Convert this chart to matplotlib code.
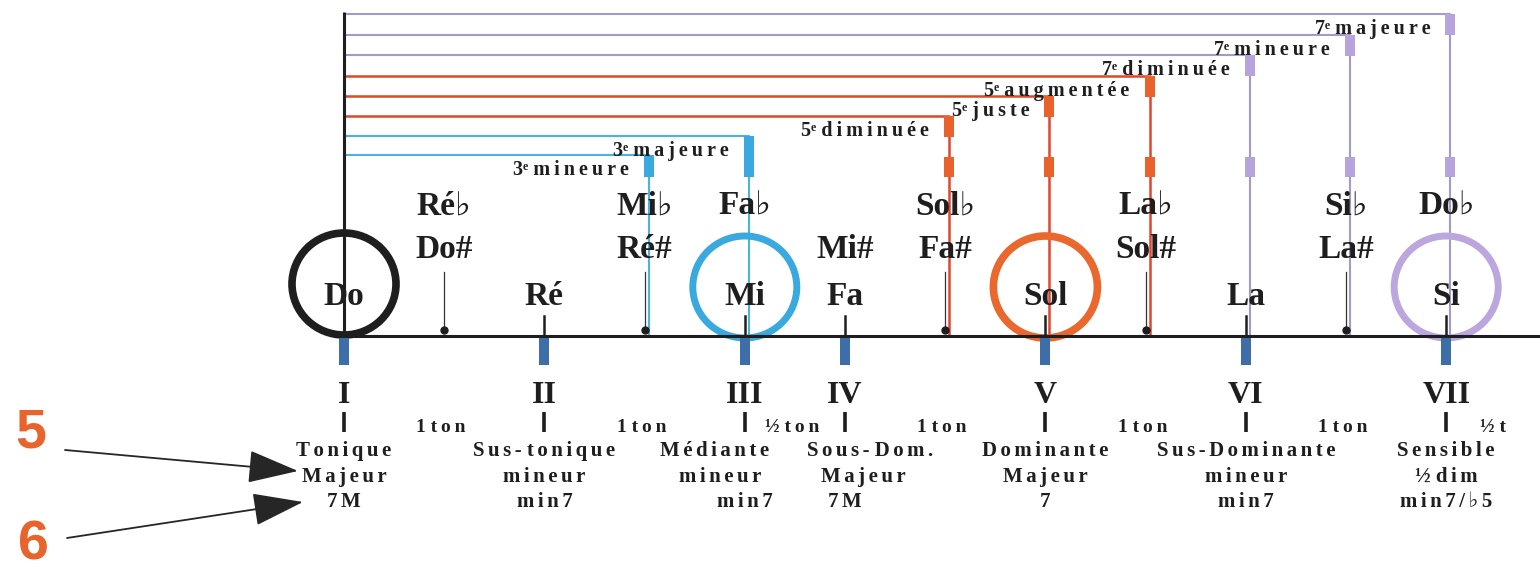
import matplotlib.pyplot as plt
from matplotlib.patches import Ellipse, Rectangle

# --- data -------------------------------------------------------------
naturals = ['Do', 'Ré', 'Mi', 'Fa', 'Sol', 'La', 'Si']
natural_semis = [0, 2, 4, 5, 7, 9, 11]
degrees = ['I', 'II', 'III', 'IV', 'V', 'VI', 'VII']
functions = ['Tonique', 'Sus- tonique', 'Médiante', 'Sous- Dom.',
             'Dominante', 'Sus-Dominante', 'Sensible']
modes = ['Majeur', 'mineur', 'mineur', 'Majeur', 'Majeur', 'mineur', '½ dim']
chords = ['7M', 'min7', 'min7', '7M', '7', 'min7', 'min7/♭5']
steps = ['1 ton', '1 ton', '½ ton', '1 ton', '1 ton', '1 ton', '½ t']

sharps = ['Do#', 'Ré#', 'Mi#', 'Fa#', 'Sol#', 'La#']
sharp_semis = [1, 3, 5, 6, 8, 10]
flats = ['Ré♭', 'Mi♭', 'Fa♭', 'Sol♭', 'La♭', 'Si♭', 'Do♭']
flat_semis = [1, 3, 4, 6, 8, 10, 11]
black_keys = [1, 3, 6, 8, 10]

intervals = ['3ᵉ mineure', '3ᵉ majeure', '5ᵉ diminuée', '5ᵉ juste',
             '5ᵉ augmentée', '7ᵉ diminuée', '7ᵉ mineure', '7ᵉ majeure']
interval_semis = [3, 4, 6, 7, 8, 9, 10, 11]

circled_semis = [0, 4, 7, 11]

# --- style / layout ---------------------------------------------------
W, H = 1540, 571
PX = 100.2          # pixels per semitone
X0 = 344            # pixel of Do
BASE = 336          # baseline (pixels from top)
levels = [155, 136, 116, 96, 76, 55, 35, 14]
SERIF = ['Liberation Serif', 'DejaVu Serif', 'DejaVu Sans']
INK = '#1e1e1e'

family_colors = {'3': ('#4cb2e2', '#3aa9df'),
                 '5': ('#e2452d', '#e9622b'),
                 '7': ('#a39acb', '#b7a4dc')}
circle_colors = [INK, '#3aa9df', '#ea682e', '#bba6de']
circle_y = [284, 287, 287, 287]
circle_lw = [5.5, 5, 5.5, 5]
degree_blue = '#3d6ea8'
orange = '#e8642c'


def spread(s, gap):
    # letter-spacing inside words; "3ᵉ" kept tight
    out = []
    for word in s.split(' '):
        if word.endswith('ᵉ'):
            out.append(word)
        else:
            out.append(gap.join(word))
    return ' '.join(out)


def xpx(px):
    return (px - X0) / PX


fig = plt.figure(figsize=(15.4, 5.71), dpi=100)
ax = fig.add_axes([0, 0, 1, 1])
ax.set_xlim(xpx(0), xpx(W))
ax.set_ylim(H, 0)
ax.axis('off')

# axes of the scale
ax.plot([0, xpx(W)], [BASE, BASE], color=INK, lw=2.2, zorder=3, solid_capstyle='butt')
ax.plot([0, 0], [12, BASE], color=INK, lw=2.2, zorder=3, solid_capstyle='butt')

# circles round the chord tones
for s, c, cy, lw in zip(circled_semis, circle_colors, circle_y, circle_lw):
    ax.add_patch(Ellipse((s, cy), 2 * 52 / PX, 102, fill=False, ec=c, lw=lw, zorder=2))

# interval brackets
for k, (name, s) in enumerate(zip(intervals, interval_semis)):
    line_c, rect_c = family_colors[name[0]]
    y = levels[k]
    xv = s + 0.04
    lw = 1.8 if name[0] == '5' else 1.5
    ax.plot([0, xv, xv], [y, y, BASE], color=line_c, lw=lw, zorder=1)
    if name[0] == '3':
        ax.add_patch(Rectangle((xv - 0.05, y), 0.1, 177 - y, fc=rect_c, ec='none', zorder=2))
    else:
        ax.add_patch(Rectangle((xv - 0.05, y), 0.1, 21, fc=rect_c, ec='none', zorder=2))
        ax.add_patch(Rectangle((xv - 0.05, 157), 0.1, 20, fc=rect_c, ec='none', zorder=2))
    ax.text(xv - 0.2, y + 20, spread(name, '\u2009'), ha='right', va='baseline',
            fontsize=14.5, fontweight='bold', family=SERIF, color=INK, zorder=4)

# note ticks
for s in black_keys:
    ax.plot([s, s], [272, 330], color='#333333', lw=0.9, zorder=3)
    ax.plot(s, 330, 'o', ms=5, color=INK, zorder=4)
for s in natural_semis[1:]:
    ax.plot([s, s], [316, BASE], color=INK, lw=1.8, zorder=3)
for s in natural_semis:
    ax.add_patch(Rectangle((s - 0.05, 338), 0.1, 27, fc=degree_blue, ec='none', zorder=3))

# note names
for name, s in zip(naturals, natural_semis):
    ax.text(s, 305, name, ha='center', va='baseline', fontsize=24,
            fontweight='bold', family=SERIF, color=INK, zorder=5)
for name, s in zip(sharps, sharp_semis):
    ax.text(s, 258, name, ha='center', va='baseline', fontsize=24,
            fontweight='bold', family=SERIF, color=INK, zorder=5)
for name, s in zip(flats, flat_semis):
    ax.text(s, 215, name, ha='center', va='baseline', fontsize=24,
            fontweight='bold', family=SERIF, color=INK, zorder=5)

# degrees and functions
func_shift = [0, 0, -0.3, 0.25, 0, 0, 0]
mode_shift = [0, 0, -0.25, 0.18, 0, 0, 0]
ends = natural_semis[1:] + [12]
GAP = '\u2006'
for i, s in enumerate(natural_semis):
    ax.text(s, 403, degrees[i], ha='center', va='baseline', fontsize=23,
            fontweight='bold', family=SERIF, color=INK)
    ax.plot([s, s], [412, 432], color=INK, lw=2.6, solid_capstyle='butt')
    ax.text((s + ends[i]) / 2 - 0.03, 432, spread(steps[i], '\u2009'), ha='center',
            va='baseline', fontsize=14, fontweight='bold', family=SERIF, color=INK)
    ax.text(s + func_shift[i], 456, spread(functions[i], GAP), ha='center',
            va='baseline', fontsize=15, fontweight='bold', family=SERIF, color=INK)
    ax.text(s + mode_shift[i], 482, spread(modes[i], GAP), ha='center',
            va='baseline', fontsize=15, fontweight='bold', family=SERIF, color=INK)
    ax.text(s, 507, spread(chords[i], GAP), ha='center', va='baseline',
            fontsize=15, fontweight='bold', family=SERIF, color=INK)

# side markers 5 and 6
for label, (tx, ty), start, tip in [('5', (31, 433), (65, 450), (298, 471)),
                                    ('6', (33, 546), (67, 538), (303, 502))]:
    fig.text(tx / W, 1 - ty / H, label, ha='center', va='center', fontsize=40,
             fontweight='bold', family=['Liberation Sans', 'DejaVu Sans'], color=orange)
    ax.annotate('', xy=(xpx(tip[0]), tip[1]), xytext=(xpx(start[0]), start[1]),
                arrowprops=dict(arrowstyle='-|>,head_length=0.8,head_width=0.26',
                                mutation_scale=40, lw=1.3, color='#262626',
                                shrinkA=0, shrinkB=0))

fig.savefig('out.png', dpi=100, facecolor='white')
